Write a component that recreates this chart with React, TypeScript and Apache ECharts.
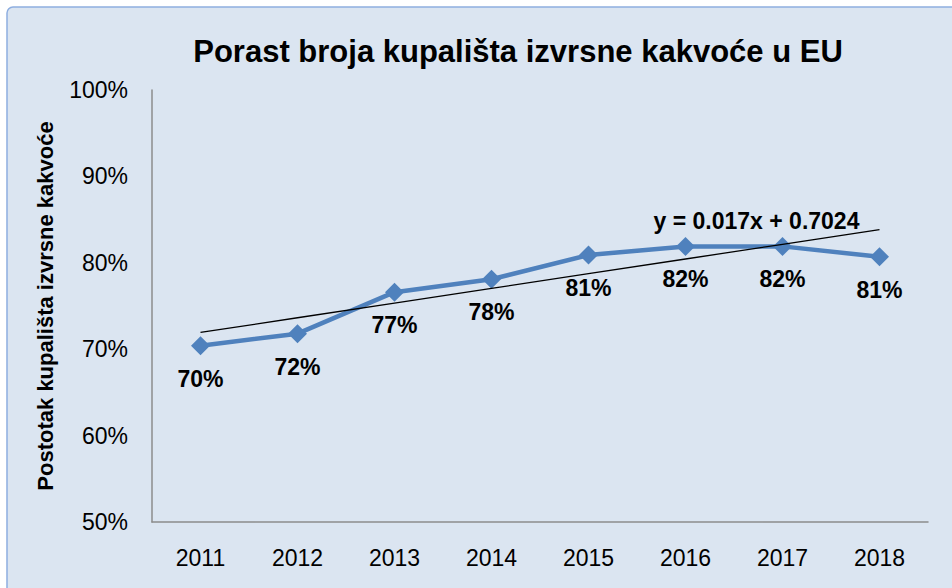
import React, { useEffect, useRef } from "react";
import * as echarts from "echarts";

const title = "Porast broja kupališta izvrsne kakvoće u EU";
const yAxisName = "Postotak kupališta izvrsne kakvoće";
const years = ["2011", "2012", "2013", "2014", "2015", "2016", "2017", "2018"];
const shares = [70.4, 71.8, 76.6, 78.1, 80.9, 81.9, 81.9, 80.7];
const trendSlope = 0.017;
const trendIntercept = 0.7024;
const trendLabel = "y = 0.017x + 0.7024";

const FONT = "'Liberation Sans', Arial, sans-serif";

export default function App() {
  const ref = useRef<HTMLDivElement>(null);
  useEffect(() => {
    if (!ref.current) return;
    const chart = echarts.init(ref.current, undefined, { renderer: "svg" });
    const trend = years.map((_, i) => +((trendSlope * (i + 1) + trendIntercept) * 100).toFixed(3));
    chart.setOption({
      animation: false,
      backgroundColor: "#ffffff",
      graphic: [
        {
          type: "rect",
          shape: { x: 7, y: 7, width: 960, height: 600, r: 6 },
          style: { fill: "#dbe5f1", stroke: "#8eaee0", lineWidth: 1.5 },
          z: -10,
        },
      ],
      title: {
        text: title,
        left: 513,
        top: 31,
        textAlign: "center",
        textStyle: { fontFamily: FONT, fontSize: 31, fontWeight: "bold", color: "#000" },
      },
      grid: { left: 152, right: 24, top: 90, bottom: 66 },
      xAxis: {
        type: "category",
        data: years,
        boundaryGap: true,
        axisLine: { lineStyle: { color: "#8c8c8c", width: 1.5 } },
        axisTick: { show: false },
        axisLabel: { fontFamily: FONT, fontSize: 23, color: "#000", margin: 24 },
      },
      yAxis: {
        type: "value",
        min: 50,
        max: 100,
        interval: 10,
        name: yAxisName,
        nameLocation: "middle",
        nameGap: 96,
        nameRotate: 90,
        nameTextStyle: { fontFamily: FONT, fontSize: 22, fontWeight: "bold", color: "#000" },
        axisLine: { show: true, lineStyle: { color: "#8c8c8c", width: 1.5 } },
        axisTick: { show: false },
        splitLine: { show: false },
        axisLabel: { fontFamily: FONT, fontSize: 23, color: "#000", margin: 24, formatter: "{value}%" },
      },
      series: [
        {
          type: "line",
          data: shares,
          symbol: "diamond",
          symbolSize: 19,
          lineStyle: { color: "#4f81bd", width: 4.5 },
          itemStyle: { color: "#4f81bd" },
          label: {
            show: true,
            position: "bottom",
            distance: 12,
            fontFamily: FONT,
            fontSize: 23,
            fontWeight: "bold",
            color: "#000",
            formatter: (p: any) => Math.round(p.value) + "%",
          },
          z: 3,
        },
        {
          type: "line",
          data: trend,
          symbol: "none",
          lineStyle: { color: "#000", width: 1.3 },
          z: 4,
          markPoint: {
            symbol: "circle",
            symbolSize: 1,
            itemStyle: { color: "rgba(0,0,0,0)" },
            data: [
              {
                coord: [6, trend[6]],
                label: {
                  show: true,
                  position: "inside",
                  formatter: trendLabel,
                  fontFamily: FONT,
                  fontSize: 23,
                  fontWeight: "bold",
                  color: "#000",
                  offset: [-26, -23],
                },
              },
            ],
          },
        },
      ],
    });
    return () => chart.dispose();
  }, []);
  return <div ref={ref} style={{ width: 952, height: 588, position: "absolute", left: 0, top: 0 }} />;
}
